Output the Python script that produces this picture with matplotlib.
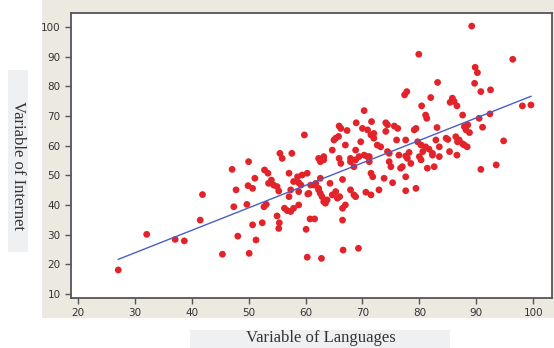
import numpy as np
import matplotlib
matplotlib.use("Agg")
import matplotlib.pyplot as plt
from matplotlib.patches import Rectangle

# points (languages, internet)
languages = [27.1, 32.1, 37.1, 38.7, 41.5, 41.9, 45.4, 47.1, 47.4, 47.8, 48.1, 49.7, 50.0, 50.1,
             49.9, 50.7, 50.7, 51.1, 51.3, 52.4, 52.7, 52.8, 53.1, 53.4, 53.5, 54.0, 54.4, 55.0,
             55.3, 55.0, 55.4, 55.3, 55.5, 55.9, 57.6, 56.3, 56.8, 57.1, 57.1, 57.4, 57.9, 57.9,
             58.8, 58.6, 58.8, 59.2, 59.4, 60.3, 60.4, 60.1, 60.3, 60.8, 57.4, 58.8, 60.9, 61.8,
             62.3, 62.8, 66.6, 69.3, 61.6, 66.5, 60.6, 90.8, 93.5, 94.8, 79.4, 77.6, 77.6, 75.3,
             73.8, 72.9, 71.5, 70.6, 68.8, 68.5, 67.9, 67.0, 66.5, 66.5, 65.6, 66.0, 65.3, 64.7,
             64.3, 63.8, 63.5, 63.2, 62.9, 62.6, 62.3, 61.5, 62.6, 65.0, 62.6, 63.2, 65.9, 66.2,
             67.9, 67.9, 68.5, 68.8, 69.4, 70.3, 70.9, 71.2, 71.5, 71.8, 74.7, 75.0, 74.7, 76.4,
             76.7, 77.0, 77.9, 78.5, 80.0, 80.3, 80.6, 81.4, 82.3, 82.6, 83.5, 89.2, 79.9, 96.4,
             89.8, 90.2, 83.2, 89.7, 90.8, 92.5, 77.8, 77.4, 82.0, 70.3, 85.8, 85.4, 86.6, 98.1,
             99.6, 80.4, 81.1, 81.3, 87.6, 90.5, 92.4, 91.1, 59.8, 65.9, 66.2, 65.3, 65.8, 67.3,
             68.9, 70.0, 70.9, 71.6, 64.7, 67.0, 69.7, 71.5, 72.0, 72.6, 73.2, 74.1, 75.6, 76.2,
             74.1, 76.0, 77.6, 79.1, 79.4, 79.7, 80.3, 81.1, 81.7, 82.3, 82.9, 83.1, 85.0, 86.4,
             87.0, 87.9, 88.4, 87.9, 88.5, 88.8, 85.3, 86.6, 78.2, 77.6, 74.4, 72.0, 68.8, 71.2,
             63.2, 62.3, 74.4, 86.1, 88.2, 84.7, 86.7, 87.6, 83.5]
internet = [18.1, 30.1, 28.4, 27.9, 34.9, 43.5, 23.4, 52.0, 39.4, 45.1, 29.5, 40.2, 54.6, 23.7,
            46.5, 45.6, 33.3, 49.0, 28.2, 34.0, 39.4, 51.8, 40.2, 50.7, 47.3, 48.4, 46.7, 46.2,
            44.7, 36.3, 34.0, 32.1, 57.4, 55.7, 57.4, 38.9, 38.1, 50.7, 42.8, 45.1, 47.9, 38.9,
            40.0, 49.5, 44.5, 46.7, 50.1, 50.7, 43.7, 31.8, 22.4, 35.3, 37.8, 47.5, 46.7, 47.3,
            45.6, 22.0, 24.8, 25.4, 35.3, 34.9, 43.9, 52.0, 53.5, 61.6, 45.6, 44.8, 49.5, 47.5,
            49.0, 45.1, 43.4, 44.3, 42.8, 43.4, 45.1, 40.0, 38.9, 48.6, 42.3, 42.8, 44.5, 43.4,
            47.3, 41.7, 40.6, 41.1, 42.8, 43.9, 45.1, 46.7, 49.0, 61.9, 54.6, 55.2, 55.7, 54.0,
            55.7, 54.6, 52.9, 55.2, 56.3, 56.8, 56.3, 54.6, 50.7, 49.5, 54.6, 52.9, 57.4, 56.8,
            52.4, 52.9, 55.7, 54.0, 56.3, 55.2, 58.0, 52.4, 56.8, 52.9, 56.3, 100.3, 90.8, 89.1,
            86.4, 84.6, 81.3, 81.0, 78.2, 78.8, 78.2, 77.1, 76.2, 71.8, 76.0, 74.6, 73.4, 73.4,
            73.7, 73.4, 70.3, 69.2, 70.3, 69.2, 70.7, 66.2, 63.6, 66.6, 65.8, 62.5, 63.1, 65.1,
            67.7, 65.8, 65.3, 68.1, 58.5, 60.2, 61.3, 63.6, 62.5, 60.2, 59.6, 67.7, 66.6, 65.8,
            64.8, 61.9, 61.9, 65.3, 65.8, 61.3, 60.2, 59.6, 58.8, 57.4, 61.9, 66.1, 62.1, 63.0,
            61.9, 60.2, 59.6, 66.4, 67.0, 64.4, 58.0, 56.8, 57.7, 56.5, 67.0, 64.1, 58.5, 56.3,
            56.3, 55.7, 58.0, 74.9, 65.3, 62.5, 61.3, 60.6, 59.6]

x_ticks = [20, 30, 40, 50, 60, 70, 80, 90, 100]
y_ticks = [10, 20, 30, 40, 50, 60, 70, 80, 90, 100]

x = np.array(languages)
y = np.array(internet)

# least squares line over the data range
coef = np.polyfit(x, y, 1)
xl = np.array([x.min(), x.max()])

fig = plt.figure(figsize=(5.54, 3.48), dpi=100, facecolor='white')

# beige panel behind the axes and the tick labels
fig.patches.append(Rectangle((42 / 554, 30 / 348), 1, 1, transform=fig.transFigure,
                             facecolor='#ece9e1', edgecolor='none', zorder=-2))
# label boxes
fig.patches.append(Rectangle((8 / 554, 96 / 348), 20 / 554, 182 / 348, transform=fig.transFigure,
                             facecolor='#eef0f2', edgecolor='none', zorder=-2))
fig.patches.append(Rectangle((190 / 554, 0), 260 / 554, 18 / 348, transform=fig.transFigure,
                             facecolor='#eef0f2', edgecolor='none', zorder=-2))

ax = fig.add_axes([71 / 554, 50 / 348, 481 / 554, 285 / 348])
ax.set_zorder(1)
ax.set_facecolor('white')
ax.scatter(x, y, s=24, color='#e3232a', edgecolors='none', zorder=3)
ax.plot(xl, np.polyval(coef, xl), color='#4a5ec4', lw=1.0, zorder=4)

ax.set_xlim(18.8, 103.3)
ax.set_ylim(8.65, 104.7)
ax.set_xticks(x_ticks)
ax.set_yticks(y_ticks)
ax.tick_params(direction='out', length=4, width=1, colors='#555555', labelsize=7.5,
               labelcolor='#333333')
for s in ax.spines.values():
    s.set_color('#555555')
    s.set_linewidth(1.3)

fig.text(18 / 554, 1 - 166 / 348, 'Variable of Internet', rotation=270, ha='center', va='center',
         family='Liberation Serif', fontsize=12, color='#333333')
fig.text(321 / 554, 10 / 348, 'Variable of Languages', ha='center', va='center',
         family='Liberation Serif', fontsize=12, color='#333333')

fig.savefig('out.png', dpi=100, facecolor=fig.get_facecolor())
